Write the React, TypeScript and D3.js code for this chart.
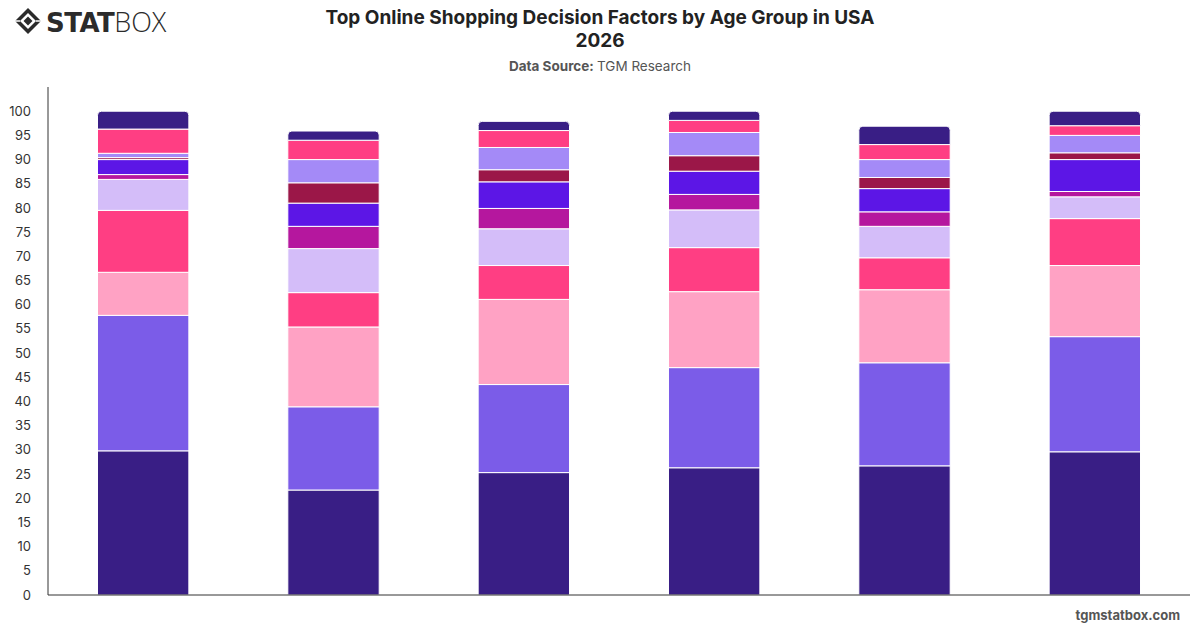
import React from "react";
import * as d3 from "d3";

// Age groups along the x axis
const ageGroups = ["18-24", "25-34", "35-44", "45-54", "55-64", "65+"];

// Decision factors, stacked bottom to top
const factors = [
  "Price",
  "Product Quality",
  "Customer Reviews",
  "Free Shipping",
  "Delivery Speed",
  "Brand Reputation",
  "Return Policy",
  "Discounts & Promotions",
  "Payment Options",
  "Sustainability",
  "Other",
];

const factorColors = [
  "#391e85",
  "#7b5ce8",
  "#ffa2c4",
  "#ff3e83",
  "#d4bdf9",
  "#b5179e",
  "#5c16e6",
  "#9b1748",
  "#a48af7",
  "#ff3e83",
  "#391e85",
];

// Share (%) of each factor per age group, one array per factor
const price = [29.8, 21.7, 25.3, 26.3, 26.7, 29.6];
const productQuality = [28.0, 17.2, 18.2, 20.7, 21.3, 23.8];
const customerReviews = [8.9, 16.5, 17.6, 15.7, 15.1, 14.7];
const freeShipping = [12.8, 7.1, 7.0, 9.1, 6.6, 9.7];
const deliverySpeed = [6.4, 9.1, 7.6, 7.8, 6.5, 4.5];
const brandReputation = [1.0, 4.6, 4.2, 3.2, 3.0, 1.1];
const returnPolicy = [3.1, 4.8, 5.5, 4.8, 4.8, 6.6];
const discounts = [0.4, 4.2, 2.5, 3.2, 2.3, 1.4];
const paymentOptions = [0.9, 4.8, 4.6, 4.8, 3.7, 3.6];
const sustainability = [5.0, 4.0, 3.5, 2.5, 3.1, 2.0];
const other = [3.7, 1.9, 1.9, 1.9, 3.8, 3.0];

const seriesValues = [
  price,
  productQuality,
  customerReviews,
  freeShipping,
  deliverySpeed,
  brandReputation,
  returnPolicy,
  discounts,
  paymentOptions,
  sustainability,
  other,
];

const yTicks = [0, 5, 10, 15, 20, 25, 30, 35, 40, 45, 50, 55, 60, 65, 70, 75, 80, 85, 90, 95, 100];

const W = 1200;
const H = 628;
const margin = { left: 48, right: 10, top: 87, bottom: 33 };
const FONT = "Inter, 'Noto Sans', sans-serif";

type Row = { group: string } & Record<string, number | string>;

export default function App() {
  const rows: Row[] = ageGroups.map((g, i) => {
    const r: Row = { group: g };
    factors.forEach((f, k) => {
      r[f] = seriesValues[k][i];
    });
    return r;
  });

  const stack = d3.stack<Row>().keys(factors).value((d, key) => d[key] as number);
  const layers = stack(rows);

  const x = d3
    .scaleBand<string>()
    .domain(ageGroups)
    .range([margin.left, W - margin.right])
    .paddingInner(0.52)
    .paddingOuter(0.26);

  const y = d3
    .scaleLinear()
    .domain([0, 105])
    .range([H - margin.bottom, margin.top]);

  // topmost non-empty layer per group, gets rounded top corners
  const topIndex = ageGroups.map((_, i) => {
    let t = 0;
    layers.forEach((l, k) => {
      if (l[i][1] - l[i][0] > 0) t = k;
    });
    return t;
  });

  const roundedTop = (x0: number, y0: number, w: number, h: number, r: number) => {
    const rr = Math.min(r, h, w / 2);
    const p = d3.path();
    p.moveTo(x0, y0 + h);
    p.lineTo(x0, y0 + rr);
    p.arcTo(x0, y0, x0 + rr, y0, rr);
    p.lineTo(x0 + w - rr, y0);
    p.arcTo(x0 + w, y0, x0 + w, y0 + rr, rr);
    p.lineTo(x0 + w, y0 + h);
    p.closePath();
    return p.toString();
  };

  return (
    <svg width={W} height={H} style={{ display: "block", position: "absolute", left: 0, top: 0 }}>
      <rect width={W} height={H} fill="#ffffff" />

      {/* logo */}
      <g transform="translate(15,8)">
        <g transform="translate(13,13)">
          <path d="M0,-13 L13,0 L0,13 L-13,0 Z" fill="#2b2b2b" />
          <path d="M0,-8 L8,0 L0,8 L-8,0 Z" fill="#ffffff" />
          <path d="M0,-4.5 L4.5,0 L0,4.5 L-4.5,0 Z" fill="#2b2b2b" />
          <path d="M-13,0 L-8,0 M13,0 L8,0" stroke="#ffffff" strokeWidth={1.5} />
        </g>
        <text x={31} y={24} fontFamily="'DejaVu Sans', sans-serif" fontSize={26} fill="#2b2b2b">
          <tspan fontWeight={900} letterSpacing={-0.5}>STAT</tspan>
          <tspan fontWeight={200} fontFamily="'Open Sans', sans-serif" fontSize={27}>BOX</tspan>
        </text>
      </g>

      {/* title */}
      <text x={600} y={24} textAnchor="middle" fontFamily={FONT} fontSize={19} fontWeight={700} fill="#222">
        Top Online Shopping Decision Factors by Age Group in USA
      </text>
      <text x={600} y={47} textAnchor="middle" fontFamily={FONT} fontSize={19} fontWeight={700} fill="#222">
        2026
      </text>
      <text x={600} y={71} textAnchor="middle" fontFamily={FONT} fontSize={13.5} fill="#555">
        <tspan fontWeight={700}>Data Source: </tspan>
        <tspan>TGM Research</tspan>
      </text>

      {/* y axis labels */}
      {yTicks.map((t) => (
        <text
          key={t}
          x={31}
          y={y(t)}
          dy="0.35em"
          textAnchor="end"
          fontFamily={FONT}
          fontSize={13}
          fill="#333"
        >
          {t}
        </text>
      ))}

      {/* stacked bars */}
      {layers.map((layer, k) => (
        <g key={factors[k]} fill={factorColors[k]}>
          {layer.map((d, i) => {
            const x0 = x(ageGroups[i]) as number;
            const w = x.bandwidth();
            const y0 = y(d[1]);
            const h = y(d[0]) - y(d[1]);
            if (h <= 0) return null;
            if (k === topIndex[i]) {
              return (
                <path key={i} d={roundedTop(x0, y0, w, h, 4)} stroke="#ffffff" strokeWidth={1} />
              );
            }
            return <rect key={i} x={x0} y={y0} width={w} height={h} stroke="#ffffff" strokeWidth={1} />;
          })}
        </g>
      ))}

      {/* axes lines */}
      <line x1={margin.left} x2={margin.left} y1={margin.top} y2={H - margin.bottom} stroke="#333" strokeWidth={1} />
      <line x1={margin.left} x2={W - margin.right} y1={H - margin.bottom} y2={H - margin.bottom} stroke="#333" strokeWidth={1} />

      {/* footer */}
      <text x={1180} y={620} textAnchor="end" fontFamily={FONT} fontSize={13} fontWeight={700} fill="#555">
        tgmstatbox.com
      </text>
    </svg>
  );
}
